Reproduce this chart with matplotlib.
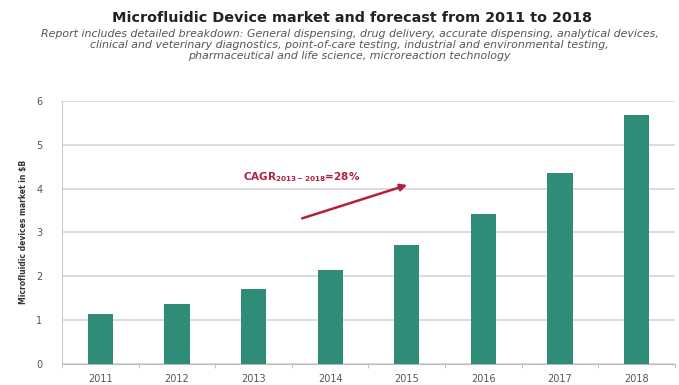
import numpy as np
import matplotlib.pyplot as plt

# data
years = ['2011', '2012', '2013', '2014', '2015', '2016', '2017', '2018']
market = [1.13, 1.37, 1.70, 2.15, 2.71, 3.43, 4.36, 5.68]
y_ticks = [0, 1, 2, 3, 4, 5, 6]

bar_color = '#2e8c79'
grid_color = '#d6d6d6'
accent = '#b3203f'

fig = plt.figure(figsize=(6.79, 3.85), dpi=100)
ax = fig.add_axes([0.0913, 0.055, 0.9027, 0.683])

x = np.arange(len(years))
ax.bar(x, market, width=0.33, color=bar_color, zorder=3)

ax.set_xlim(-0.5, len(years) - 0.5)
ax.set_ylim(0, 6)
ax.set_yticks(y_ticks)
ax.set_xticks(x)
ax.set_xticklabels(years)
ax.set_xticks(np.arange(-0.5, len(years)), minor=True)
ax.tick_params(axis='both', which='major', labelsize=7, colors='#555555', length=0)
ax.tick_params(axis='x', which='major', pad=7)
ax.tick_params(axis='x', which='minor', length=3, color='#bbbbbb')
ax.tick_params(axis='y', pad=14)
ax.grid(axis='y', color=grid_color, linewidth=1.2, zorder=0)
for side in ['top', 'right']:
    ax.spines[side].set_visible(False)
ax.spines['left'].set_color('#cccccc')
ax.spines['bottom'].set_color('#bbbbbb')

ax.set_ylabel('Microfluidic devices market in $B', fontsize=5.5, fontweight='bold', color='#333333', labelpad=6)

# CAGR annotation
ax.annotate('', xy=(4.04, 4.1), xytext=(2.6, 3.3),
            arrowprops=dict(arrowstyle='-|>', color=accent, lw=1.8, mutation_scale=10))
ax.text(1.86, 4.26, r'CAGR$_{\mathregular{2013-2018}}$=28%', color=accent, fontsize=7.5,
        fontweight='bold', va='center', ha='left')

fig.text(0.518, 0.952, 'Microfluidic Device market and forecast from 2011 to 2018',
         ha='center', va='center', fontsize=10.4, fontweight='bold', color='#222222')
fig.text(0.515, 0.883,
         'Report includes detailed breakdown: General dispensing, drug delivery, accurate dispensing, analytical devices,\n'
         'clinical and veterinary diagnostics, point-of-care testing, industrial and environmental testing,\n'
         'pharmaceutical and life science, microreaction technology',
         ha='center', va='center', fontsize=7.9, style='italic', color='#555555', linespacing=1.15)

fig.savefig('out.png', dpi=100)
